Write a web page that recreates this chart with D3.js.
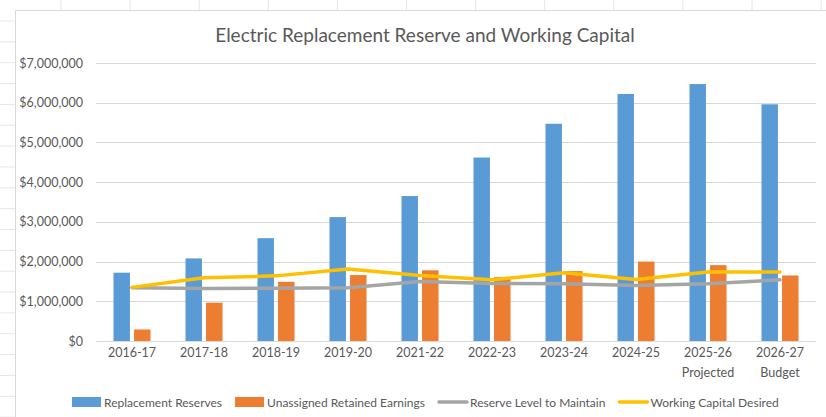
<!DOCTYPE html>
<html>
<head>
<meta charset="utf-8">
<script src="https://cdn.jsdelivr.net/npm/d3@7"></script>
<style>
  html, body { margin: 0; padding: 0; background: #ffffff; }
  svg { display: block; }
  text { font-family: Lato, "Open Sans", sans-serif; fill: #595959; }
</style>
</head>
<body>
<svg id="chart" width="826" height="417"></svg>
<script>
// Fiscal years on the category axis (second label line where present)
const categories = ["2016-17", "2017-18", "2018-19", "2019-20", "2021-22", "2022-23", "2023-24", "2024-25", "2025-26", "2026-27"];
const subLabels  = ["", "", "", "", "", "", "", "", "Projected", "Budget"];

// Column series
const replacementReserves = [1720000, 2080000, 2590000, 3120000, 3650000, 4620000, 5470000, 6220000, 6470000, 5960000];
const unassignedRetained  = [290000, 965000, 1490000, 1660000, 1780000, 1610000, 1760000, 2000000, 1910000, 1650000];

// Line series
const reserveLevel   = [1340000, 1320000, 1330000, 1340000, 1500000, 1450000, 1440000, 1400000, 1440000, 1540000];
const workingCapital = [1350000, 1590000, 1640000, 1810000, 1650000, 1540000, 1720000, 1550000, 1740000, 1740000];

// Value axis ticks
const yTicks = [0, 1000000, 2000000, 3000000, 4000000, 5000000, 6000000, 7000000];

const seriesNames = ["Replacement Reserves", "Unassigned Retained Earnings", "Reserve Level to Maintain", "Working Capital Desired"];
const colors = { blue: "#5b9bd5", orange: "#ed7d31", gray: "#a5a5a5", gold: "#ffc000" };

const svg = d3.select("#chart");

// Worksheet cell lines peeking around the chart frame
const cellCols = d3.range(12).map(i => 61 + i * 69.1);
svg.append("g").selectAll("line").data(cellCols).join("line")
  .attr("x1", d => d).attr("x2", d => d).attr("y1", 0).attr("y2", 10)
  .attr("stroke", "#e6e6e6").attr("stroke-width", 1);
const cellRows = d3.range(20).map(i => 21 + i * 20.85);
svg.append("g").selectAll("line").data(cellRows).join("line")
  .attr("x1", 0).attr("x2", 15).attr("y1", d => d).attr("y2", d => d)
  .attr("stroke", "#e6e6e6").attr("stroke-width", 1);

// Chart frame
svg.append("path")
  .attr("d", "M15.5,417 L15.5,10.5 L826,10.5")
  .attr("fill", "none").attr("stroke", "#d9d9d9").attr("stroke-width", 1);

const plot = { left: 96, right: 816, top: 63, bottom: 341 };

const x = d3.scaleBand().domain(categories).range([plot.left, plot.right]).paddingInner(0.486).paddingOuter(0.243);
const xs = d3.scaleBand().domain(["rr", "ur"]).range([0, x.bandwidth()]).paddingInner(0.2);
const y = d3.scaleLinear().domain([0, 7000000]).range([plot.bottom, plot.top]);
const xc = d => x(d) + x.bandwidth() / 2;

// Gridlines
svg.append("g").selectAll("line").data(yTicks).join("line")
  .attr("x1", plot.left).attr("x2", plot.right)
  .attr("y1", d => Math.round(y(d)) + 0.5).attr("y2", d => Math.round(y(d)) + 0.5)
  .attr("stroke", "#d9d9d9").attr("stroke-width", 1.2);

// Value axis
const yAxis = d3.axisLeft(y).tickValues(yTicks).tickFormat(d3.format("$,")).tickSize(0).tickPadding(13);
const gy = svg.append("g").attr("transform", `translate(${plot.left},0)`).call(yAxis);
gy.select(".domain").remove();
gy.selectAll("text").attr("font-size", 12.5).attr("fill", "#595959")
  .style("font-family", "Lato, 'Open Sans', sans-serif");

// Columns
const bars = svg.append("g");
bars.selectAll("rect.rr").data(categories).join("rect").attr("class", "rr")
  .attr("x", (d) => x(d) + xs("rr"))
  .attr("width", xs.bandwidth())
  .attr("y", (d, i) => y(replacementReserves[i]))
  .attr("height", (d, i) => y(0) - y(replacementReserves[i]))
  .attr("fill", colors.blue);
bars.selectAll("rect.ur").data(categories).join("rect").attr("class", "ur")
  .attr("x", (d) => x(d) + xs("ur"))
  .attr("width", xs.bandwidth())
  .attr("y", (d, i) => y(unassignedRetained[i]))
  .attr("height", (d, i) => y(0) - y(unassignedRetained[i]))
  .attr("fill", colors.orange);

// Lines
const line = d3.line().x((d, i) => xc(categories[i])).y(d => y(d));
svg.append("path").datum(reserveLevel).attr("d", line)
  .attr("fill", "none").attr("stroke", colors.gray).attr("stroke-width", 3.5)
  .attr("stroke-linejoin", "round").attr("stroke-linecap", "round");
svg.append("path").datum(workingCapital).attr("d", line)
  .attr("fill", "none").attr("stroke", colors.gold).attr("stroke-width", 3.5)
  .attr("stroke-linejoin", "round").attr("stroke-linecap", "round");

// Category axis
const xAxis = d3.axisBottom(x).tickSize(0).tickPadding(0);
const gx = svg.append("g").attr("transform", `translate(0,${plot.bottom})`).call(xAxis);
gx.select(".domain").remove();
gx.selectAll(".tick text").remove();
gx.selectAll(".tick").each(function(d, i) {
  const t = d3.select(this).append("text").attr("text-anchor", "middle")
    .attr("font-size", 12.5).attr("fill", "#595959")
    .style("font-family", "Lato, 'Open Sans', sans-serif");
  t.append("tspan").attr("x", 0).attr("y", 16).text(d);
  if (subLabels[i]) t.append("tspan").attr("x", 0).attr("y", 36).text(subLabels[i]);
});

// Title
svg.append("text").attr("x", 425).attr("y", 42).attr("text-anchor", "middle")
  .attr("font-size", 19).attr("fill", "#595959").text("Electric Replacement Reserve and Working Capital");

// Legend
const legendItems = [
  { name: seriesNames[0], color: colors.blue, type: "rect" },
  { name: seriesNames[1], color: colors.orange, type: "rect" },
  { name: seriesNames[2], color: colors.gray, type: "line" },
  { name: seriesNames[3], color: colors.gold, type: "line" }
];
const legend = svg.append("g").attr("transform", "translate(0,402)");
let lx = 72;
legendItems.forEach(item => {
  const g = legend.append("g").attr("transform", `translate(${lx},0)`);
  if (item.type === "rect") {
    g.append("rect").attr("x", 0).attr("y", -5).attr("width", 29).attr("height", 10).attr("fill", item.color);
  } else {
    g.append("line").attr("x1", 1).attr("x2", 29).attr("y1", 0).attr("y2", 0)
      .attr("stroke", item.color).attr("stroke-width", 3.5).attr("stroke-linecap", "round");
  }
  const t = g.append("text").attr("x", 32).attr("y", 4.5).attr("font-size", 12).text(item.name);
  lx += 32 + t.node().getComputedTextLength() + 13;
});
</script>
</body>
</html>
